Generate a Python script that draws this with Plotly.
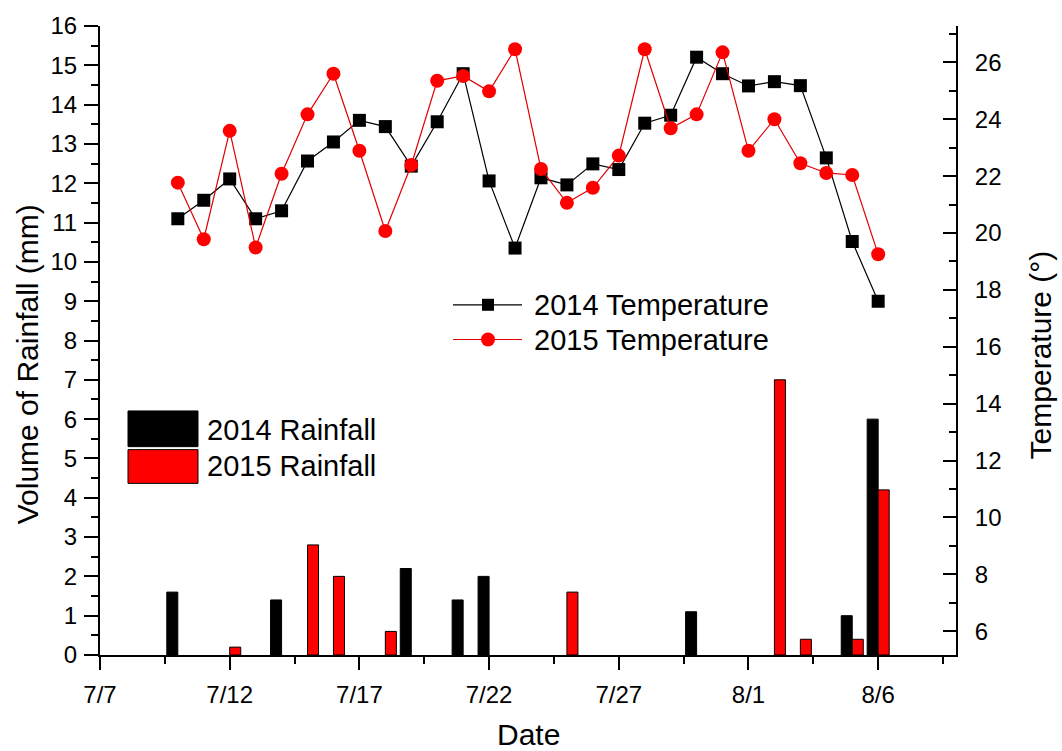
import plotly.graph_objects as go
import pandas as pd

# ---------------- data ----------------
temp_dates = ["7/10", "7/11", "7/12", "7/13", "7/14", "7/15", "7/16", "7/17", "7/18",
              "7/19", "7/20", "7/21", "7/22", "7/23", "7/24", "7/25", "7/26", "7/27",
              "7/28", "7/29", "7/30", "7/31", "8/1", "8/2", "8/3", "8/4", "8/5", "8/6"]
temp_2014 = [20.5, 21.15, 21.9, 20.5, 20.78, 22.53, 23.2, 23.96, 23.74,
             22.35, 23.91, 25.6, 21.83, 19.47, 21.94, 21.69, 22.43, 22.23,
             23.86, 24.14, 26.18, 25.6, 25.17, 25.32, 25.18, 22.64, 19.7, 17.6]
temp_2015 = [21.77, 19.78, 23.59, 19.49, 22.08, 24.17, 25.6, 22.89, 20.07,
             22.39, 25.35, 25.52, 24.98, 26.46, 22.25, 21.06, 21.59, 22.72,
             26.46, 23.68, 24.17, 26.35, 22.89, 24.0, 22.45, 22.11, 22.04, 19.25]

rain_2014_dates = ["7/10", "7/14", "7/19", "7/21", "7/22", "7/30", "8/5", "8/6"]
rain_2014 = [1.6, 1.4, 2.2, 1.4, 2.0, 1.1, 1.0, 6.0]
rain_2015_dates = ["7/12", "7/15", "7/16", "7/18", "7/25", "8/2", "8/3", "8/5", "8/6"]
rain_2015 = [0.2, 2.8, 2.0, 0.6, 1.6, 7.0, 0.4, 0.4, 4.2]

x_range_labels = ["7/7", "8/9"]


def to_dt(labels):
    return pd.to_datetime(["2015/" + s for s in labels], format="%Y/%m/%d")


FONT = "Liberation Sans, Arial, sans-serif"
DAY_MS = 86400000

fig = go.Figure()

fig.add_trace(go.Bar(
    x=to_dt(rain_2014_dates), y=rain_2014, name="2014 Rainfall",
    marker=dict(color="black", line=dict(color="black", width=1)),
    yaxis="y", showlegend=False))
fig.add_trace(go.Bar(
    x=to_dt(rain_2015_dates), y=rain_2015, name="2015 Rainfall",
    marker=dict(color="#FF0000", line=dict(color="black", width=1)),
    yaxis="y", showlegend=False))

fig.add_trace(go.Scatter(
    x=to_dt(temp_dates), y=temp_2014, name="2014 Temperature", mode="lines+markers",
    line=dict(color="black", width=1.2),
    marker=dict(symbol="square", size=13, color="black"),
    yaxis="y2", showlegend=False))
fig.add_trace(go.Scatter(
    x=to_dt(temp_dates), y=temp_2015, name="2015 Temperature", mode="lines+markers",
    line=dict(color="#E00000", width=1.2),
    marker=dict(symbol="circle", size=14, color="#FF0000"),
    yaxis="y2", showlegend=False))

xr = list(to_dt(x_range_labels))

# plot area in pixels: x 100..956, y 21..655
L, R, T, B = 100, 956, 21, 655
W, H = R - L, B - T


def px(x):
    return (x - L) / W


def py(y):
    return (B - y) / H


tick_font = dict(family=FONT, size=24, color="black")

fig.update_layout(
    width=1062, height=751,
    margin=dict(l=L, r=1062 - R, t=T, b=751 - B),
    paper_bgcolor="white", plot_bgcolor="white",
    barmode="group", bargap=0.15, bargroupgap=0,
    font=dict(family=FONT, color="black"),
    xaxis=dict(
        type="date", range=xr, tick0=xr[0], dtick=5 * DAY_MS,
        tickformat="%-m/%-d", tickfont=tick_font,
        showline=True, linecolor="black", linewidth=2,
        ticks="outside", ticklen=13, tickwidth=2, tickcolor="black",
        minor=dict(dtick=2.5 * DAY_MS, tick0=xr[0], ticks="outside", ticklen=7,
                   tickwidth=2, tickcolor="black", showgrid=False),
        showgrid=False, zeroline=False, ticklabelstandoff=4,
    ),
    xaxis2=dict(
        type="date", range=xr, tick0=xr[0], dtick=5 * DAY_MS,
        overlaying="x", side="top", anchor="y",
        showline=True, linecolor="black", linewidth=2,
        ticks="inside", ticklen=13, tickwidth=2, tickcolor="black",
        minor=dict(dtick=2.5 * DAY_MS, tick0=xr[0], ticks="inside", ticklen=8,
                   tickwidth=2, tickcolor="black", showgrid=False),
        showticklabels=False, showgrid=False, zeroline=False,
    ),
    yaxis=dict(
        range=[0, 16], dtick=1, tick0=0, tickfont=tick_font,
        showline=True, linecolor="black", linewidth=2,
        ticks="outside", ticklen=14, tickwidth=2, tickcolor="black",
        minor=dict(dtick=0.5, ticks="outside", ticklen=7, tickwidth=2,
                   tickcolor="black", showgrid=False),
        showgrid=False, zeroline=False, ticklabelstandoff=2,
    ),
    yaxis2=dict(
        range=[5.163, 27.277], dtick=2, tick0=0, tickfont=tick_font,
        overlaying="y", side="right", anchor="x",
        showline=True, linecolor="black", linewidth=2,
        ticks="inside", ticklen=13, tickwidth=2, tickcolor="black",
        minor=dict(dtick=1, ticks="inside", ticklen=7, tickwidth=2,
                   tickcolor="black", showgrid=False),
        showgrid=False, zeroline=False, ticklabelstandoff=12,
    ),
)

shapes = []
annotations = []

# axis titles
annotations.append(dict(text="Volume of Rainfall (mm)", x=px(27), y=py(362), xref="paper",
                        yref="paper", textangle=-90, showarrow=False,
                        font=dict(family=FONT, size=30, color="black"),
                        xanchor="center", yanchor="middle"))
annotations.append(dict(text="Temperature (°)", x=px(1040), y=py(353), xref="paper",
                        yref="paper", textangle=-90, showarrow=False,
                        font=dict(family=FONT, size=30, color="black"),
                        xanchor="center", yanchor="middle"))
annotations.append(dict(text="Date", x=px(528), y=py(735), xref="paper", yref="paper",
                        showarrow=False, font=dict(family=FONT, size=30, color="black"),
                        xanchor="center", yanchor="middle"))

# temperature legend
leg_font = dict(family=FONT, size=29, color="black")
for yy, col, sym, label in [(302, "black", "square", "2014 Temperature"),
                            (337, "#E00000", "circle", "2015 Temperature")]:
    shapes.append(dict(type="line", xref="paper", yref="paper",
                       x0=px(453), x1=px(522), y0=py(yy), y1=py(yy),
                       line=dict(color=col, width=1.2)))
    if sym == "square":
        shapes.append(dict(type="rect", xref="paper", yref="paper",
                           xsizemode="pixel", ysizemode="pixel",
                           xanchor=px(488), yanchor=py(yy),
                           x0=-6, x1=6, y0=-6, y1=6,
                           fillcolor="black", line=dict(width=0)))
    else:
        shapes.append(dict(type="circle", xref="paper", yref="paper",
                           xsizemode="pixel", ysizemode="pixel",
                           xanchor=px(488), yanchor=py(yy),
                           x0=-7, x1=7, y0=-7, y1=7,
                           fillcolor="#FF0000", line=dict(width=0)))
    annotations.append(dict(text=label, x=px(532), y=py(yy), xref="paper", yref="paper",
                            showarrow=False, font=leg_font, xanchor="left",
                            yanchor="middle"))

# rainfall legend
for (y0, y1, ty, fill, label) in [(409, 445, 428, "black", "2014 Rainfall"),
                                  (448, 482, 465, "#FF0000", "2015 Rainfall")]:
    shapes.append(dict(type="rect", xref="paper", yref="paper",
                       x0=px(128), x1=px(198), y0=py(y1), y1=py(y0),
                       fillcolor=fill, line=dict(color="black", width=1)))
    annotations.append(dict(text=label, x=px(205), y=py(ty), xref="paper", yref="paper",
                            showarrow=False, font=leg_font, xanchor="left",
                            yanchor="middle"))

fig.update_layout(shapes=shapes, annotations=annotations)

fig.write_html("out.html",
               config={"displayModeBar": False},
               post_script="document.body.style.margin='0px';document.body.style.overflow='hidden';")
